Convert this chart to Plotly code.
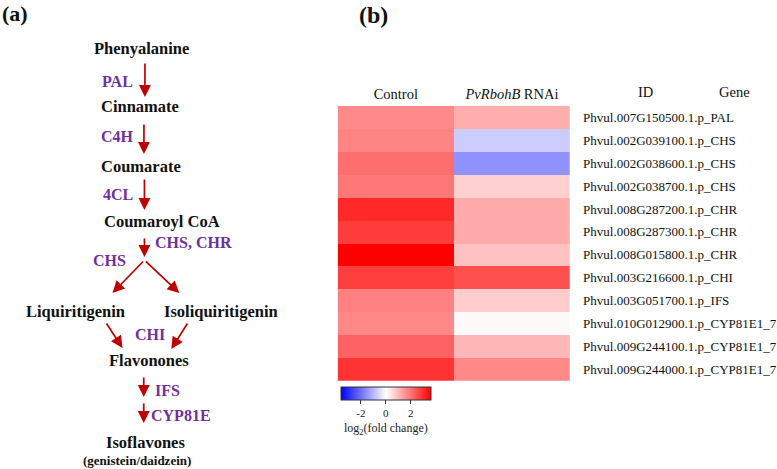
import plotly.graph_objects as go

W, H = 777, 469

conditions = ["Control", "<i>PvRbohB</i> RNAi"]
gene_ids = [
    "Phvul.007G150500.1.p_PAL",
    "Phvul.002G039100.1.p_CHS",
    "Phvul.002G038600.1.p_CHS",
    "Phvul.002G038700.1.p_CHS",
    "Phvul.008G287200.1.p_CHR",
    "Phvul.008G287300.1.p_CHR",
    "Phvul.008G015800.1.p_CHR",
    "Phvul.003G216600.1.p_CHI",
    "Phvul.003G051700.1.p_IFS",
    "Phvul.010G012900.1.p_CYP81E1_7",
    "Phvul.009G244100.1.p_CYP81E1_7",
    "Phvul.009G244000.1.p_CYP81E1_7",
]
control_vals = [1.65, 1.73, 2.05, 1.90, 3.03, 2.75, 3.60, 2.73, 1.80, 1.68, 2.22, 2.88]
rnai_vals = [1.15, -0.72, -1.57, 0.67, 1.18, 1.18, 0.86, 2.47, 0.71, 0.07, 1.03, 1.68]
cbar_ticks = [-2, 0, 2]
cbar_ticktext = ["-2", "0", "2"]

metabolites = ["Phenyalanine", "Cinnamate", "Coumarate", "Coumaroyl CoA",
               "Liquiritigenin", "Isoliquiritigenin", "Flavonones", "Isoflavones"]
enzymes = ["PAL", "C4H", "4CL", "CHS, CHR", "CHS", "CHI", "IFS", "CYP81E"]

SERIF = "Liberation Serif"
PURPLE = "#7030A0"
ARROW = "#C00000"


def px(x):
    return x / W


def py(y):
    return 1 - y / H


z = [[c, r] for c, r in zip(control_vals, rnai_vals)]

fig = go.Figure()
fig.add_trace(go.Heatmap(
    z=z, x=conditions, y=gene_ids,
    colorscale=[[0, "#0000FF"], [0.5, "#FFFFFF"], [1, "#FF0000"]],
    zmin=-3.6, zmax=3.6, xgap=0, ygap=0,
    hoverinfo="skip",
    colorbar=dict(
        orientation="h", x=px(387.3), xanchor="center",
        y=py(387.3), yanchor="top", len=90, lenmode="pixels",
        thickness=13, xpad=0, ypad=0, outlinewidth=1, outlinecolor="#333333",
        ticks="outside", ticklen=4, tickcolor="#333333",
        tickvals=cbar_ticks, ticktext=cbar_ticktext,
        tickfont=dict(family=SERIF, size=11, color="#222"),
        title=dict(text="log<sub>2</sub>(fold change)", side="bottom",
                   font=dict(family=SERIF, size=12, color="#222")),
    ),
))

fig.update_xaxes(domain=[px(339), px(572.3)], side="top", showgrid=False,
                 zeroline=False, showline=False, ticks="", ticklabelstandoff=3,
                 tickfont=dict(family=SERIF, size=14.5, color="#111"))
fig.update_yaxes(domain=[py(380.7), py(106)], side="right", autorange="reversed",
                 showgrid=False, zeroline=False, showline=False, ticks="",
                 ticklabelstandoff=12,
                 tickfont=dict(family=SERIF, size=13, color="#111"))

ann = []


def text(t, x, y, size, color="#111", bold=True, xanchor="center"):
    ann.append(dict(text=f"<b>{t}</b>" if bold else t, x=px(x), y=py(y),
                    xref="paper", yref="paper", showarrow=False,
                    xanchor=xanchor, yanchor="middle",
                    font=dict(family=SERIF, size=size, color=color)))


def arrow(x0, y0, x1, y1):
    ann.append(dict(text="", x=px(x1), y=py(y1), xref="paper", yref="paper",
                    ax=x0 - x1, ay=y0 - y1, axref="pixel", ayref="pixel",
                    showarrow=True, arrowhead=2, arrowsize=1.4, arrowwidth=1.7,
                    arrowcolor=ARROW, standoff=0, startstandoff=0))


# panel labels
text("(a)", 15, 13, 22)
text("(b)", 375, 15, 24)

# metabolites
met_pos = [(141.7, 48), (141, 106), (141.7, 166), (162.8, 221),
           (76, 311), (222, 311), (150, 360), (146, 442)]
for m, (x, y) in zip(metabolites, met_pos):
    text(m, x, y, 16.5)
text("(genistein/daidzein)", 138, 460, 13)

# enzymes
enz_pos = [(118, 81), (118, 137), (118, 195), (194, 243),
           (110, 260), (151, 334), (168, 390), (182, 415)]
for e, (x, y) in zip(enzymes, enz_pos):
    text(e, x, y, 16, color=PURPLE)

# arrows
arrow(145.5, 62, 145.5, 97)
arrow(144.5, 123, 144.5, 154)
arrow(145, 178, 145, 210)
arrow(145, 237, 145, 257)
arrow(145, 260, 113, 293)
arrow(145, 260, 180, 293)
arrow(106, 322, 123, 348)
arrow(189, 322, 172, 349)
arrow(144.3, 376, 144.3, 397)
arrow(144.3, 402, 144.3, 423)

# heatmap headers
text("ID", 648, 92, 14.5, bold=False)
text("Gene", 737, 92, 14.5, bold=False)

fig.update_layout(width=W, height=H, margin=dict(l=0, r=0, t=0, b=0),
                  paper_bgcolor="white", plot_bgcolor="white",
                  annotations=ann, showlegend=False)

fig.write_html("out.html", config={"displayModeBar": False},
               post_script="document.body.style.margin='0';")
